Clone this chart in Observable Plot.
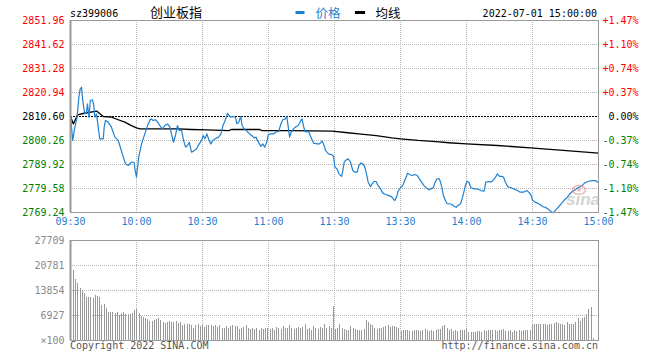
<!DOCTYPE html>
<html><head><meta charset="utf-8">
<script src="https://cdn.jsdelivr.net/npm/d3@7"></script>
<script src="https://cdn.jsdelivr.net/npm/@observablehq/plot@0.6"></script>
<style>
body{margin:0;background:#fff;}
#chart{position:relative;width:660px;height:360px;overflow:hidden;background:#fff;}
#chart svg{position:absolute;left:0;top:0;}
</style></head><body><div id="chart"></div>
<script>
// ---- data ----
const prevClose = 2810.60;
const priceTicks = [2769.24, 2779.58, 2789.92, 2800.26, 2810.60, 2820.94, 2831.28, 2841.62, 2851.96];
const pctLabels = ["-1.47%", "-1.10%", "-0.74%", "-0.37%", "0.00%", "+0.37%", "+0.74%", "+1.10%", "+1.47%"];
const timeTickMinutes = [0, 30, 60, 90, 120, 150, 180, 210, 240];
const timeTickLabels = ["09:30", "10:00", "10:30", "11:00", "11:30", "13:30", "14:00", "14:30", "15:00"];
const volTicks = [0, 6927, 13854, 20781, 27709];
const volTickLabels = ["×100", "6927", "13854", "20781", "27709"];

// price (minute from 09:30, value)
const priceSeries = [[0,2811.0],[0.6,2804.6],[1,2800.3],[2,2806.0],[3,2810.3],[3.8,2818.9],[4.4,2822.5],[5,2823.2],[5.5,2818.2],[6,2814.6],[6.5,2811.7],[7.3,2812.5],[7.7,2816.0],[8.4,2810.3],[9,2817.5],[9.9,2817.8],[10.5,2816.0],[11.1,2810.3],[11.8,2811.7],[12.6,2806.0],[13.3,2801.0],[14.9,2801.0],[15.3,2806.0],[15.9,2808.9],[17.1,2808.2],[18.6,2806.0],[20.2,2801.7],[21.7,2800.3],[22.4,2798.1],[24,2793.1],[25,2790.2],[26.2,2789.5],[27.7,2790.9],[28.9,2790.9],[29.4,2787.3],[30,2784.5],[30.5,2788.8],[31,2793.1],[32.3,2798.8],[33.8,2803.1],[35.3,2807.4],[36.5,2809.6],[37.6,2808.9],[38.6,2809.2],[39.6,2808.2],[40.6,2806.7],[41.7,2805.3],[42.9,2806.7],[44.1,2807.4],[45.2,2806.0],[45.9,2803.1],[46.8,2799.5],[47.7,2802.4],[48.6,2806.7],[49.4,2804.6],[50.5,2804.6],[51.4,2800.3],[52.3,2797.4],[53.2,2798.1],[54,2799.5],[55,2795.2],[56.2,2795.9],[57.3,2796.7],[58.5,2798.8],[59.6,2800.3],[60.3,2802.4],[61.1,2801.0],[62,2803.1],[62.9,2800.5],[63.8,2798.8],[64.7,2800.3],[65.8,2801.0],[67.3,2801.7],[68.4,2803.1],[69.3,2806.7],[70.3,2808.9],[71.4,2812.0],[72,2811.0],[72.9,2810.3],[74.1,2810.6],[75,2810.3],[75.6,2807.4],[76.5,2808.2],[77.4,2810.6],[78,2806.7],[78.9,2805.3],[80.2,2804.3],[81.4,2803.1],[82.4,2802.4],[83.5,2801.4],[84.4,2801.7],[85,2800.3],[85.9,2798.8],[86.5,2797.7],[87.4,2798.8],[88.3,2797.4],[89.2,2799.5],[89.9,2802.8],[91,2803.1],[92.3,2803.1],[93.5,2803.9],[94.7,2804.3],[95.6,2807.4],[96.5,2809.2],[97.6,2809.6],[98.3,2810.6],[98.9,2806.7],[99.6,2801.7],[100.3,2803.9],[101.4,2805.3],[102.6,2806.3],[103.5,2806.7],[104.4,2808.2],[105.2,2809.6],[105.9,2806.7],[106.5,2804.1],[108.2,2804.1],[109.3,2801.7],[110.5,2799.1],[112,2798.8],[113.2,2798.8],[114.4,2800.0],[115.3,2798.1],[115.9,2796.0],[117.3,2794.5],[118.5,2794.2],[119.5,2793.6],[120.2,2788.8],[121.1,2788.1],[122,2785.9],[123.2,2784.8],[123.8,2787.3],[124.4,2790.9],[125.3,2791.9],[126.2,2792.4],[127.3,2790.9],[128.3,2787.3],[129.3,2786.6],[130.3,2786.6],[131.1,2789.5],[132,2790.6],[132.9,2790.2],[133.8,2788.8],[134.7,2785.2],[135.3,2782.3],[136.4,2780.4],[137.1,2781.6],[138,2782.7],[138.9,2782.6],[139.8,2780.9],[140.9,2779.4],[142,2777.6],[143.2,2777.0],[144.4,2776.6],[145.9,2776.1],[146.7,2775.1],[147.4,2774.4],[148.2,2775.9],[148.9,2778.4],[150,2779.9],[151,2780.9],[151.9,2783.0],[152.6,2784.5],[153.2,2786.2],[154.1,2785.6],[155.3,2785.2],[156.5,2785.6],[157.6,2785.2],[158.6,2783.7],[159.6,2782.3],[160.6,2780.9],[161.7,2779.9],[162.9,2779.0],[163.8,2779.4],[164.9,2779.9],[165.6,2781.9],[166.5,2783.7],[167.7,2783.7],[168.6,2780.9],[169.5,2776.6],[170.4,2774.4],[171.2,2773.0],[172.2,2773.0],[173.4,2772.7],[174.4,2771.8],[175.3,2771.5],[176.2,2772.3],[177.3,2773.0],[178,2775.1],[178.8,2778.0],[179.5,2780.9],[180.2,2782.7],[181.1,2782.3],[182,2779.9],[183.5,2779.4],[185,2779.4],[186.5,2778.7],[188,2778.4],[188.8,2782.3],[189.9,2782.6],[191.1,2782.3],[192.3,2783.3],[193.4,2784.8],[194.1,2785.9],[195,2784.8],[195.9,2784.8],[196.8,2784.5],[197.7,2782.3],[198.7,2780.4],[200.2,2779.9],[201.7,2779.3],[203.2,2778.7],[204.4,2778.0],[205.9,2778.0],[207.4,2778.7],[208.3,2778.0],[209.2,2777.0],[210,2774.7],[211,2773.7],[212.2,2773.3],[213.4,2772.7],[214.6,2771.8],[215.8,2771.5],[217,2770.8],[218.2,2769.8],[219.4,2769.1],[220.5,2770.3],[221.7,2771.5],[223,2773.0],[224.3,2774.4],[225.8,2775.9],[227,2777.3],[228.2,2778.4],[229.4,2779.0],[230.6,2779.9],[231.8,2780.4],[232.7,2780.9],[233.6,2781.9],[234.5,2782.3],[235.6,2782.7],[237.1,2783.0],[238.6,2783.0],[239.7,2782.3],[240,2782.2]];

// average line (minute, value)
const avgSeries = [[0,2810.6],[1.3,2807.4],[3.2,2811.3],[6.2,2812.0],[12,2812.9],[14.9,2810.6],[18.6,2810.3],[21.7,2809.2],[24.7,2808.2],[27.7,2806.7],[30,2805.7],[31.5,2805.3],[48.9,2805.3],[55,2805.0],[62,2804.8],[72,2804.5],[73,2805.0],[86,2805.0],[87,2804.5],[100,2804.5],[119,2804.3],[126,2803.6],[131,2803.1],[139,2802.4],[146,2801.4],[150,2801.0],[158,2800.3],[166,2799.8],[172,2799.3],[180,2798.8],[194,2798.1],[209,2797.1],[224,2796.0],[240,2794.8]];

// volume per minute (x100)
const volumes = [19396,16902,15701,14501,13854,12930,12007,12007,12007,11730,12469,12192,12007,9698,9975,8774,7666,7666,7851,7389,7666,6927,7389,7666,7112,7112,7112,7389,8312,8589,
7389,6742,6465,6003,5819,5265,5265,5542,5819,6003,5542,5080,4618,5080,5265,5080,5080,5265,4618,4895,4156,4341,4526,4341,4156,3417,4156,4341,3971,4156,
3694,4156,4156,4156,3971,4156,3694,4156,3417,3233,3971,3233,3971,4156,3971,3971,3048,3233,3694,4156,3233,3048,3233,3048,3233,2771,3233,3048,3417,3417,
3048,3233,2771,3694,3233,3048,3879,3417,3233,4156,3417,3048,3233,3694,3233,3510,4341,3048,3233,2771,3971,3233,3048,3694,3417,4526,3233,3971,
3233,9421,3048,3417,4433,3417,3048,2771,2771,3971,3417,3048,2771,2771,2771,3048,5542,5080,4433,4156,3417,3048,3233,3417,3694,3971,4156,3694,3971,3971,3694,3417,2494,2678,2771,2771,2494,2494,2678,2771,2771,2494,2771,3048,2678,2494,2678,2494,2771,3048,3048,3971,4156,3417,2771,3048,2494,2771,2494,2678,2771,2771,3048,2124,2124,2309,2124,2494,2494,2124,2678,2494,2863,2771,2678,2771,2494,2771,2863,3048,2494,2494,2771,2309,2678,2494,2678,2494,2678,2771,2771,2771,4526,4526,4526,4341,4341,4341,4526,4156,4341,4526,4710,5080,4618,4526,4526,4156,4895,4526,4526,4526,4987,6003,5265,6188,6465,7296,8589,9144,462];

// ---- styles ----
const BLUE = "#1f80d0", RED = "#ff0000", GREEN = "#008000", GRID = "#b4b4b4", FRAME = "#999999";
const MONO = "'DejaVu Sans Mono', monospace";
const chart = document.getElementById("chart");
const W = 660, H = 360, ML = 70, MR = 62;
const colorOf = v => v > prevClose + 1e-6 ? RED : (v < prevClose - 1e-6 ? GREEN : "#000");
const baseStyle = {fontFamily: MONO, fontSize: "10px", background: "transparent", overflow: "visible"};

// price panel
const pricePlot = Plot.plot({
  width: W, height: H, marginLeft: ML, marginRight: MR, marginTop: 20, marginBottom: 148,
  style: baseStyle,
  x: {domain: [0, 240], axis: null},
  y: {domain: [priceTicks[0], priceTicks[priceTicks.length - 1]], axis: null},
  color: {type: "identity"},
  marks: [
    Plot.ruleY(priceTicks.slice(1, -1).filter(v => v !== prevClose), {stroke: GRID, strokeDasharray: "1,1"}),
    Plot.ruleX(timeTickMinutes.slice(1, -1), {stroke: GRID, strokeDasharray: "1,1"}),
    Plot.ruleY([prevClose], {stroke: "#000", strokeDasharray: "2,1"}),
    Plot.line(avgSeries, {x: d => d[0], y: d => d[1], stroke: "#000", strokeWidth: 1.3}),
    Plot.line(priceSeries, {x: d => d[0], y: d => d[1], stroke: BLUE, strokeWidth: 1.2}),
    Plot.frame({stroke: FRAME}),
    Plot.ruleX([0], {stroke: FRAME, strokeWidth: 2}),
    Plot.text(priceTicks, {y: d => d, frameAnchor: "left", dx: -6, textAnchor: "end", text: d => d.toFixed(2), fill: d => colorOf(d)}),
    Plot.text(priceTicks, {y: d => d, frameAnchor: "right", dx: 40, textAnchor: "end", text: (d, i) => pctLabels[i], fill: d => colorOf(d)}),
    Plot.text(timeTickMinutes, {x: d => d, frameAnchor: "bottom", dy: 12.5, text: (d, i) => timeTickLabels[i], fill: BLUE})
  ]
});
chart.appendChild(pricePlot);

// volume grid
const volGrid = Plot.plot({
  width: W, height: H, marginLeft: ML, marginRight: MR, marginTop: 240, marginBottom: 20,
  style: baseStyle,
  x: {domain: [0, 240], axis: null},
  y: {domain: [0, volTicks[volTicks.length - 1]], axis: null},
  marks: [
    Plot.ruleY(volTicks.slice(1, -1), {stroke: GRID, strokeDasharray: "1,1"}),
    Plot.ruleX(timeTickMinutes.slice(1, -1), {stroke: GRID, strokeDasharray: "1,1"}),
    Plot.text(volTicks, {y: d => d, frameAnchor: "left", dx: -6, textAnchor: "end", text: (d, i) => volTickLabels[i], fill: "#8a8a8a"})
  ]
});
chart.appendChild(volGrid);

// volume bars
const volBars = Plot.plot({
  width: W, height: H, marginLeft: ML, marginRight: MR, marginTop: 240, marginBottom: 20,
  style: baseStyle,
  x: {domain: [-1.38, volumes.length - 1 + 2.36], axis: null},
  y: {domain: [0, volTicks[volTicks.length - 1]], axis: null},
  marks: [
    Plot.ruleX(volumes, {x: (d, i) => i, y1: 0, y2: d => d, stroke: "#999999", strokeWidth: 1, shapeRendering: "crispEdges"})
  ]
});
chart.appendChild(volBars);

// volume frame on top
const volFrame = Plot.plot({
  width: W, height: H, marginLeft: ML, marginRight: MR, marginTop: 240, marginBottom: 20,
  style: baseStyle,
  x: {domain: [0, 240], axis: null},
  y: {domain: [0, volTicks[volTicks.length - 1]], axis: null},
  marks: [
    Plot.frame({stroke: FRAME}),
    Plot.ruleX([0], {stroke: FRAME, strokeWidth: 2})
  ]
});
chart.appendChild(volFrame);

// header, legend, footer, watermark
const ns = "http://www.w3.org/2000/svg";
const over = document.createElementNS(ns, "svg");
over.setAttribute("width", W); over.setAttribute("height", H);
over.style.pointerEvents = "none";
over.innerHTML = `
  <g font-family="${MONO.replace(/'/g, "")}" font-size="10">
    <text x="70" y="16.5" fill="#000">sz399006</text>
    <text x="597" y="16.5" fill="#000" text-anchor="end">2022-07-01 15:00:00</text>
    <text x="70" y="348.5" fill="#555">Copyright 2022 SINA.COM</text>
    <text x="598" y="348.5" fill="#555" text-anchor="end">http://finance.sina.com.cn</text>
  </g>
  <g font-family="Noto Sans CJK SC" >
    <text x="150" y="17" font-size="13" fill="#000">创业板指</text>
    <rect x="295.5" y="11" width="9" height="3" fill="${BLUE}"></rect>
    <text x="315.5" y="17.5" font-size="12.5" fill="${BLUE}">价格</text>
    <rect x="355" y="11" width="10" height="3" fill="#000"></rect>
    <text x="375.5" y="17.5" font-size="12.5" fill="#000">均线</text>
  </g>
  <g opacity="0.55">
    <ellipse cx="579" cy="190" rx="6.5" ry="4.5" fill="none" stroke="#f08080" stroke-width="1.6"></ellipse>
    <circle cx="579" cy="190" r="1.8" fill="#f08080"></circle>
    <text x="566" y="205" font-family="Liberation Sans" font-style="italic" font-weight="bold" font-size="17" fill="#b0b0b0">sina</text>
  </g>`;
chart.appendChild(over);
</script>
</body></html>
